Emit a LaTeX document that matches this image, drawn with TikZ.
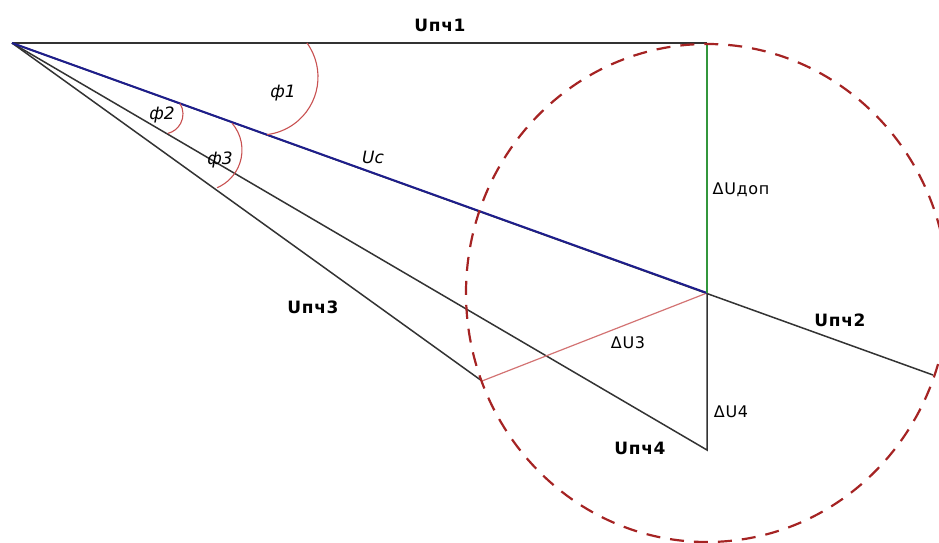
\documentclass[tikz,border=0pt]{standalone}
\usepackage{fontspec}
\setmainfont{DejaVu Sans}
\newfontfamily\widefont[LetterSpace=4]{DejaVu Sans}
\usetikzlibrary{arrows}
\definecolor{darkred}{RGB}{165,35,35}
\definecolor{arcred}{RGB}{200,80,80}
\definecolor{navy}{RGB}{30,30,140}
\definecolor{dgreen}{RGB}{50,150,60}

\begin{document}
\begin{tikzpicture}[x=1pt, y=-1pt,
	vlabel/.style={font=\widefont\fontsize{17}{17}\selectfont\bfseries},
	dlabel/.style={font=\widefont\fontsize{16}{16}\selectfont},
	alabel/.style={font=\fontsize{17}{17}\selectfont\itshape}]
	\clip (0,0) rectangle (939,543);
	\coordinate (O) at (12,43);
	\coordinate (A) at (707,43);
	\coordinate (B) at (707,293);
	\coordinate (E2) at (933,375);
	\coordinate (E3) at (482,381);
	\coordinate (E4) at (707,450);
	\draw [line width=1.5pt, black!80] (O) -- (A);
	\draw [line width=1.5pt, black!80] (O) -- (E2);
	\draw [line width=1.5pt, black!80] (O) -- (E4) -- (B);
	\draw [line width=1.5pt, black!80] (O) -- (E3);
	\draw [line width=1.2pt, arcred!80] (E3) -- (B);
	\draw [line width=2pt, navy] (O) -- (B);
	\draw [line width=1.5pt, dgreen] (A) -- (B);
	% angles
	\draw [arcred, line width=1.1pt] ([shift={(-36:58)}]260,77) arc [start angle=-36, end angle=83, radius=58];
	\draw [arcred, line width=1.1pt] ([shift={(-32:20)}]163,114) arc [start angle=-32, end angle=76, radius=20];
	\draw [arcred, line width=1.1pt] ([shift={(-41:41)}]201,150) arc [start angle=-41, end angle=67, radius=41];
	\draw [darkred, line width=2.2pt, dash pattern=on 14pt off 10pt] (B) ellipse [x radius=241, y radius=249];
	% labels
	\node [vlabel] (u1) at (440,25) {Uпч1};
	\node [vlabel] (u2) at (840,320) {Uпч2};
	\node [vlabel] (u3) at (313,307) {Uпч3};
	\node [vlabel] (u4) at (640,448) {Uпч4};
	\node [alabel] (uc) at (373,157) {Uc};
	\node [alabel] (f1) at (283,93) {ф1};
	\node [alabel] (f2) at (162,115) {ф2};
	\node [alabel] (f3) at (220,160) {ф3};
	\node [dlabel] (dudop) at (741,190) {ΔUдоп};
	\node [dlabel] (du3) at (628,343) {ΔU3};
	\node [dlabel] (du4) at (731,412) {ΔU4};
\end{tikzpicture}
\end{document}
